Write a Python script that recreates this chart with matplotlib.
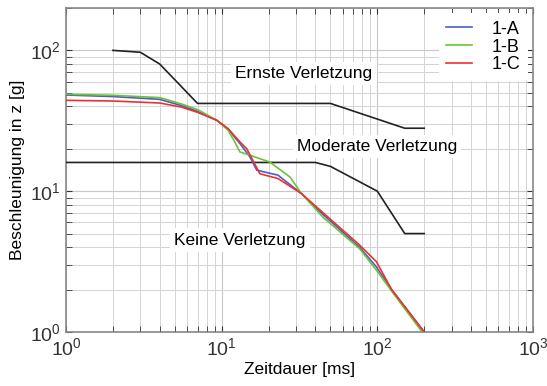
import matplotlib
matplotlib.use("Agg")
import matplotlib.pyplot as plt
import numpy as np

plt.rcParams['font.family'] = ['Liberation Sans', 'DejaVu Sans']
plt.rcParams['mathtext.fontset'] = 'custom'
plt.rcParams['mathtext.rm'] = 'Liberation Sans'

# Injury boundaries
ernst_x = [2, 3, 4, 7, 50, 150, 200]
ernst_y = [100, 97, 80, 42, 42, 28, 28]
moderat_x = [1, 40, 50, 100, 150, 200]
moderat_y = [16, 16, 15, 10, 5, 5]

# Measured curves
a_x = [1, 2, 4, 5.5, 7, 9.3, 11, 13.1, 15.2, 16.8, 23, 32.6, 45, 77, 98.6, 123.6, 200]
a_y = [48.2, 47, 44.9, 40.6, 36.9, 31.9, 27.6, 21.8, 17.5, 14.1, 13.0, 9.6, 6.8, 4.0, 2.9, 2.0, 1.0]
b_x = [1, 2, 4, 5.5, 7, 9.3, 11, 12, 13.1, 15.2, 20.4, 27.5, 32.6, 45, 77, 98.6, 123.6, 194]
b_y = [48.8, 48, 46.2, 41.7, 38, 31.9, 27.1, 22.9, 19, 18, 16.1, 12.6, 9.6, 6.5, 3.9, 2.75, 1.95, 1.0]
c_x = [1, 2, 4, 5.5, 7, 9.3, 11, 13.1, 14.5, 17.6, 23, 32.6, 45, 77, 98.6, 123.6, 200]
c_y = [44.2, 43.7, 42.3, 39.6, 36.3, 31.9, 27.8, 22.4, 20, 13.3, 12.3, 9.6, 7.0, 4.14, 3.16, 2.0, 1.0]

labels = ['1-A', '1-B', '1-C']
colors = ['#4a5fc1', '#6cc23a', '#f03030']

fig = plt.figure(figsize=(5.47, 3.86), dpi=100)
ax = fig.add_axes([66/547, 1-332/386, (533-66)/547, (332-8)/386])
ax.set_xscale('log')
ax.set_yscale('log')
ax.set_xlim(1, 1000)
ax.set_ylim(1, 200)

ax.grid(True, which='major', color='#c8c8c8', lw=0.8)
ax.grid(True, which='minor', color='#d4d4d4', lw=0.7)
ax.set_axisbelow(True)

ax.plot(ernst_x, ernst_y, color='#222222', lw=1.2, zorder=3)
ax.plot(moderat_x, moderat_y, color='#222222', lw=1.2, zorder=3)

for xs, ys, lab, col in zip([a_x, b_x, c_x], [a_y, b_y, c_y], labels, colors):
    ax.plot(xs, ys, color=col, lw=1.2, label=lab, zorder=4)

def px2x(px):
    return 10 ** ((px - 66) / 155.7)

def py2y(py):
    return 10 ** (2 - (py - 50) / 141)

bbox = dict(facecolor='white', edgecolor='none', pad=3)
ax.text(px2x(304), py2y(73), 'Ernste Verletzung', fontsize=12.5, ha='center', va='center', bbox=bbox, zorder=2)
ax.text(px2x(377), py2y(146), 'Moderate Verletzung', fontsize=12.5, ha='center', va='center', bbox=bbox, zorder=2)
ax.text(px2x(240), py2y(240), 'Keine Verletzung', fontsize=12.5, ha='center', va='center', bbox=bbox, zorder=2)

leg = ax.legend(loc='upper right', frameon=True, fontsize=13, handlelength=1.4,
                borderaxespad=0.3, labelspacing=0.05, handletextpad=1.1, borderpad=0.4)
leg.get_frame().set_edgecolor('none')
leg.get_frame().set_facecolor('white')
leg.get_frame().set_alpha(1)

ax.tick_params(which='both', direction='in', top=True, right=True, colors='#333333', labelsize=14)
ax.tick_params(which='major', length=4)
ax.tick_params(which='minor', length=4)
for s in ax.spines.values():
    s.set_color('#888888')
    s.set_linewidth(1.2)

ax.set_xlabel('Zeitdauer [ms]', fontsize=12.5, labelpad=2)
ax.set_ylabel('Beschleunigung in z [g]', fontsize=12.5, labelpad=4)

fig.savefig('out.png', dpi=100)
